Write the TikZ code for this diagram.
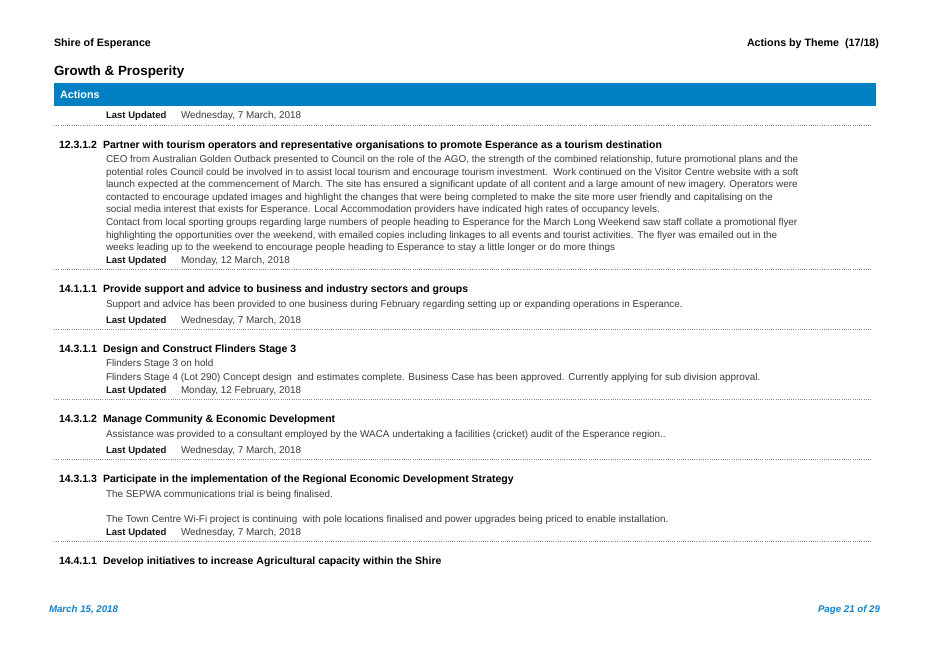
\documentclass[tikz,border=0pt]{standalone}
\usepackage{fontspec}
\setmainfont{Liberation Sans}
\definecolor{barblue}{RGB}{0,128,194}
\definecolor{foot}{RGB}{20,130,200}
\definecolor{bodygray}{RGB}{60,60,60}
\begin{document}
\begin{tikzpicture}[x=1pt,y=-1pt,
  every node/.style={inner sep=0pt,outer sep=0pt,anchor=base west},
  bodytxt/.style={font=\fontsize{9.9}{11}\selectfont,text=bodygray},
  headtxt/.style={font=\fontsize{10.5}{12}\selectfont\bfseries,text=black},
  lulabel/.style={font=\fontsize{9.55}{11}\selectfont\bfseries,text=black!90},
  datetxt/.style={font=\fontsize{9.9}{11}\selectfont,text=bodygray},
  dotline/.style={draw=black!45,line width=0.5pt,dash pattern=on 0.6pt off 1.6pt},
  foottxt/.style={font=\fontsize{9.7}{11}\selectfont\bfseries\itshape,text=foot}]
\useasboundingbox (0,0) rectangle (928,657);
\fill[white] (0,0) rectangle (928,657);
% page header
\node[font=\fontsize{10.7}{12}\selectfont\bfseries] (shire) at (54,46) {Shire of Esperance};
\node[font=\fontsize{10.7}{12}\selectfont\bfseries,anchor=base east] (theme) at (879,46) {Actions by Theme\ \ (17/18)};
\node[font=\fontsize{13.4}{15}\selectfont\bfseries] (growth) at (54,75) {Growth \& Prosperity};
% blue bar
\fill[barblue] (54,83) rectangle (876,106);
\node[font=\fontsize{10.8}{12}\selectfont\bfseries,text=white] (actions) at (60,98) {Actions};
% first last updated
\node[lulabel] (lu0) at (106,118) {Last Updated};
\node[datetxt] (d0) at (181,118) {Wednesday, 7 March, 2018};
\coordinate (s0a) at (54,125); \coordinate (s0b) at (872,125);
\draw[dotline] (s0a) -- (s0b);
% 12.3.1.2
\node[headtxt] (n1) at (59,148) {12.3.1.2};
\node[headtxt] (h1) at (103,148) {Partner with tourism operators and representative organisations to promote Esperance as a tourism destination};
\node[bodytxt] (b1a) at (106,162) {CEO from Australian Golden Outback presented to Council on the role of the AGO, the strength of the combined relationship, future promotional plans and the};
\node[bodytxt] (b1b) at (106,175) {potential roles Council could be involved in to assist local tourism and encourage tourism investment.\ \ Work continued on the Visitor Centre website with a soft};
\node[bodytxt] (b1c) at (106,187.6) {launch expected at the commencement of March. The site has ensured a significant update of all content and a large amount of new imagery. Operators were};
\node[bodytxt] (b1d) at (106,200.2) {contacted to encourage updated images and highlight the changes that were being completed to make the site more user friendly and capitalising on the};
\node[bodytxt] (b1e) at (106,212.8) {social media interest that exists for Esperance. Local Accommodation providers have indicated high rates of occupancy levels.};
\node[bodytxt] (b1f) at (106,225.4) {Contact from local sporting groups regarding large numbers of people heading to Esperance for the March Long Weekend saw staff collate a promotional flyer};
\node[bodytxt] (b1g) at (106,238) {highlighting the opportunities over the weekend, with emailed copies including linkages to all events and tourist activities. The flyer was emailed out in the};
\node[bodytxt] (b1h) at (106,250.6) {weeks leading up to the weekend to encourage people heading to Esperance to stay a little longer or do more things};
\node[lulabel] (lu1) at (106,263) {Last Updated};
\node[datetxt] (d1) at (181,263) {Monday, 12 March, 2018};
\coordinate (s1a) at (54,269); \coordinate (s1b) at (872,269);
\draw[dotline] (s1a) -- (s1b);
% 14.1.1.1
\node[headtxt] (n2) at (59,292) {14.1.1.1};
\node[headtxt] (h2) at (103,292) {Provide support and advice to business and industry sectors and groups};
\node[bodytxt] (b2a) at (106,307) {Support and advice has been provided to one business during February regarding setting up or expanding operations in Esperance.};
\node[lulabel] (lu2) at (106,323) {Last Updated};
\node[datetxt] (d2) at (181,323) {Wednesday, 7 March, 2018};
\coordinate (s2a) at (54,329); \coordinate (s2b) at (872,329);
\draw[dotline] (s2a) -- (s2b);
% 14.3.1.1
\node[headtxt] (n3) at (59,352) {14.3.1.1};
\node[headtxt] (h3) at (103,352) {Design and Construct Flinders Stage 3};
\node[bodytxt] (b3a) at (106,366) {Flinders Stage 3 on hold};
\node[bodytxt] (b3b) at (106,380) {Flinders Stage 4 (Lot 290) Concept design\ \ and estimates complete. Business Case has been approved. Currently applying for sub division approval.};
\node[lulabel] (lu3) at (106,393) {Last Updated};
\node[datetxt] (d3) at (181,393) {Monday, 12 February, 2018};
\coordinate (s3a) at (54,399); \coordinate (s3b) at (872,399);
\draw[dotline] (s3a) -- (s3b);
% 14.3.1.2
\node[headtxt] (n4) at (59,422) {14.3.1.2};
\node[headtxt] (h4) at (103,422) {Manage Community \& Economic Development};
\node[bodytxt] (b4a) at (106,437) {Assistance was provided to a consultant employed by the WACA undertaking a facilities (cricket) audit of the Esperance region..};
\node[lulabel] (lu4) at (106,453) {Last Updated};
\node[datetxt] (d4) at (181,453) {Wednesday, 7 March, 2018};
\coordinate (s4a) at (54,459); \coordinate (s4b) at (872,459);
\draw[dotline] (s4a) -- (s4b);
% 14.3.1.3
\node[headtxt] (n5) at (59,482) {14.3.1.3};
\node[headtxt] (h5) at (103,482) {Participate in the implementation of the Regional Economic Development Strategy};
\node[bodytxt] (b5a) at (106,497) {The SEPWA communications trial is being finalised.};
\node[bodytxt] (b5b) at (106,522) {The Town Centre Wi-Fi project is continuing\ \ with pole locations finalised and power upgrades being priced to enable installation.};
\node[lulabel] (lu5) at (106,535) {Last Updated};
\node[datetxt] (d5) at (181,535) {Wednesday, 7 March, 2018};
\coordinate (s5a) at (54,541); \coordinate (s5b) at (872,541);
\draw[dotline] (s5a) -- (s5b);
% 14.4.1.1
\node[headtxt] (n6) at (59,564) {14.4.1.1};
\node[headtxt] (h6) at (103,564) {Develop initiatives to increase Agricultural capacity within the Shire};
% footer
\node[foottxt] (fdate) at (49,612.5) {March 15, 2018};
\node[foottxt,anchor=base east] (fpage) at (880,612.5) {Page 21 of 29};
\end{tikzpicture}
\end{document}
